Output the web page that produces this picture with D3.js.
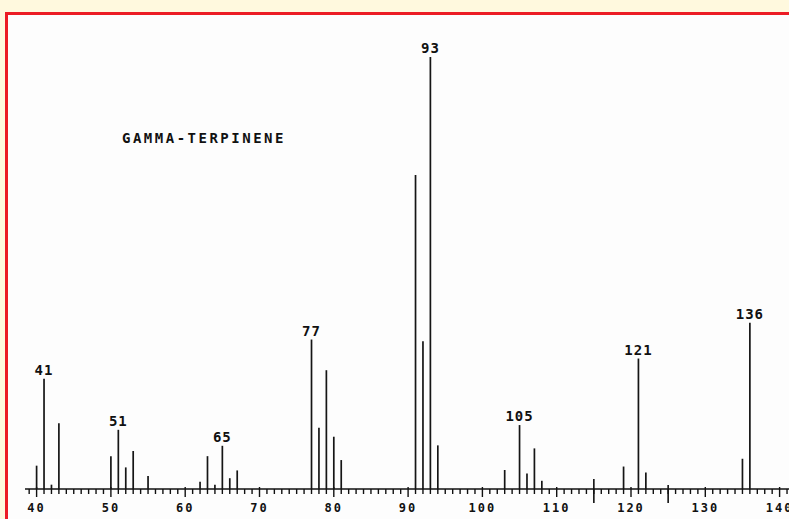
<!DOCTYPE html>
<html>
<head>
<meta charset="utf-8">
<script src="https://cdn.jsdelivr.net/npm/d3@7"></script>
<style>
  html, body { margin: 0; padding: 0; background: #fff9de; }
  svg { display: block; }
</style>
</head>
<body>
<svg id="chart" width="789" height="519"></svg>
<script>
// m/z values and relative intensities (%)
const mz =        [40, 41, 42, 43, 50, 51, 52, 53, 55, 62, 63, 64, 65, 66, 67, 77, 78, 79, 80, 81, 91, 92, 93, 94, 103, 105, 106, 107, 108, 119, 121, 122, 135, 136];
const intensity = [5.4, 25.5, 1, 15.2, 7.6, 13.7, 5, 8.8, 3, 1.7, 7.6, 1, 10, 2.5, 4.3, 34.6, 14.2, 27.5, 12.1, 6.7, 72.7, 34.2, 100, 10.1, 4.4, 14.8, 3.6, 9.4, 1.9, 5.2, 30.2, 3.8, 7, 38.5];
const labelledPeaks = [41, 51, 65, 77, 93, 105, 121, 136];
const tickLabels = [40, 50, 60, 70, 80, 90, 100, 110, 120, 130, 140];
const markerTicks = [115, 125];
const title = "GAMMA-TERPINENE";

const svg = d3.select("#chart");
const W = 789, H = 519;

// frame: cream outside, red border, white plot sheet
svg.append("rect").attr("x", 0).attr("y", 0).attr("width", W).attr("height", H).attr("fill", "#fff9de");
svg.append("rect").attr("x", 6.5).attr("y", 13.5).attr("width", W + 10).attr("height", H + 10)
  .attr("fill", "#fdfdfd").attr("stroke", "#ec1c24").attr("stroke-width", 3);

const x = d3.scaleLinear().domain([40, 140]).range([36.6, 779.6]);
const y = d3.scaleLinear().domain([0, 100]).range([489, 57]);
const axisY = y(0);

// axis baseline
svg.append("line").attr("x1", 25).attr("x2", W).attr("y1", axisY).attr("y2", axisY)
  .attr("stroke", "#111").attr("stroke-width", 1.6);

// minor ticks every unit
const minor = d3.range(39, 142);
svg.append("g").selectAll("line").data(minor).join("line")
  .attr("x1", d => x(d)).attr("x2", d => x(d))
  .attr("y1", d => d % 10 === 0 ? axisY - 2 : axisY)
  .attr("y2", d => d % 10 === 0 ? axisY + 8 : axisY + 5)
  .attr("stroke", "#111").attr("stroke-width", 1.4);

// long marker ticks
svg.append("g").selectAll("line").data(markerTicks).join("line")
  .attr("x1", d => x(d)).attr("x2", d => x(d))
  .attr("y1", (d, i) => i === 0 ? axisY - 10 : axisY - 4)
  .attr("y2", axisY + 14)
  .attr("stroke", "#111").attr("stroke-width", 1.6);

// tick labels
svg.append("g").selectAll("text").data(tickLabels).join("text")
  .attr("x", d => x(d)).attr("y", 512)
  .attr("text-anchor", "middle")
  .attr("font-family", "DejaVu Sans Mono, monospace").attr("font-weight", "bold")
  .attr("font-size", 12).attr("letter-spacing", 2)
  .attr("fill", "#111")
  .text(d => d);

// peaks
svg.append("g").selectAll("line").data(mz.map((m, i) => ({m, v: intensity[i]}))).join("line")
  .attr("x1", d => x(d.m)).attr("x2", d => x(d.m))
  .attr("y1", axisY).attr("y2", d => y(d.v))
  .attr("stroke", "#151515").attr("stroke-width", 1.7);

// peak labels
svg.append("g").selectAll("text").data(labelledPeaks).join("text")
  .attr("x", d => x(d)).attr("y", d => y(intensity[mz.indexOf(d)]) - 4)
  .attr("text-anchor", "middle")
  .attr("font-family", "DejaVu Sans Mono, monospace").attr("font-weight", "bold")
  .attr("font-size", 14).attr("letter-spacing", 1)
  .attr("fill", "#111")
  .text(d => d);

// title
svg.append("text").attr("x", 122).attr("y", 143)
  .attr("font-family", "DejaVu Sans Mono, monospace").attr("font-weight", "bold")
  .attr("font-size", 14).attr("letter-spacing", 2.5)
  .attr("fill", "#111")
  .text(title);
</script>
</body>
</html>
